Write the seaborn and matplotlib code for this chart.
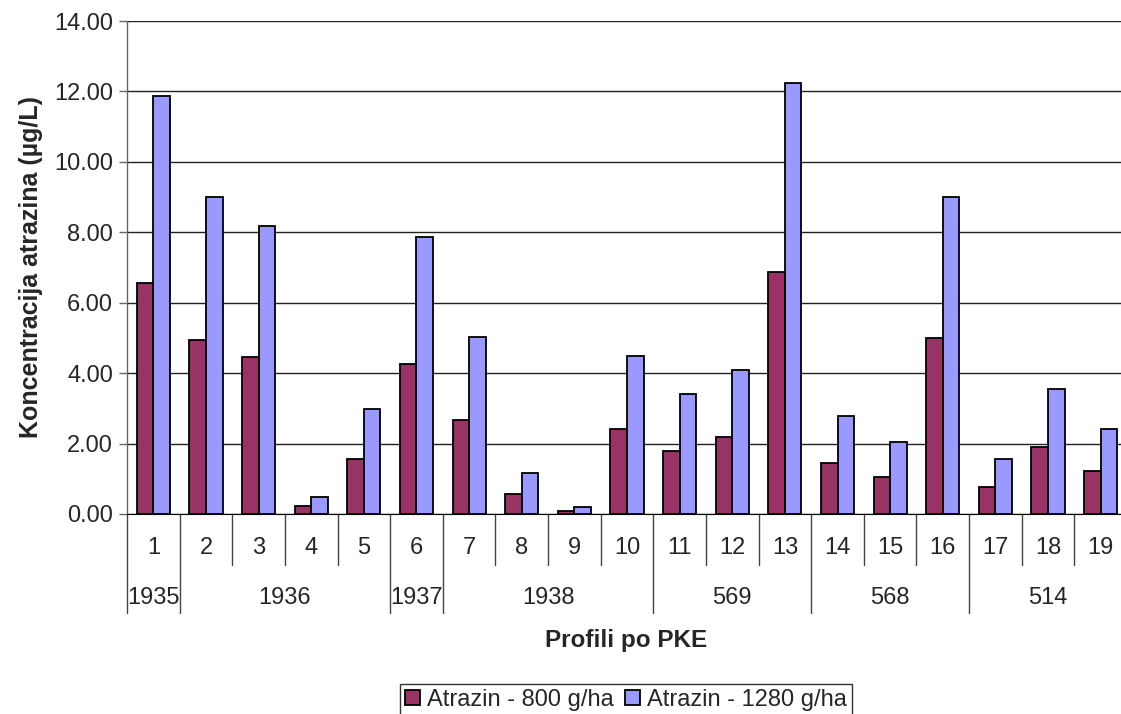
import numpy as np
import pandas as pd
import seaborn as sns
import matplotlib.pyplot as plt
from matplotlib.transforms import blended_transform_factory

# data
profili = [str(i) for i in range(1, 20)]
atrazin_800 = [6.55, 4.93, 4.45, 0.24, 1.56, 4.25, 2.68, 0.57, 0.08, 2.40,
               1.80, 2.19, 6.86, 1.45, 1.06, 4.99, 0.77, 1.90, 1.21]
atrazin_1280 = [11.86, 9.01, 8.18, 0.48, 2.97, 7.88, 5.04, 1.16, 0.19, 4.50,
                3.42, 4.10, 12.24, 2.78, 2.05, 9.01, 1.56, 3.56, 2.40]
grupe = ["1935", "1936", "1937", "1938", "569", "568", "514"]
grupe_velicina = [1, 4, 1, 4, 3, 3, 3]
serije = ["Atrazin - 800 g/ha", "Atrazin - 1280 g/ha"]
boje = ["#993366", "#9999FF"]

df = pd.DataFrame({
    "profil": profili * 2,
    "vrijednost": atrazin_800 + atrazin_1280,
    "serija": [serije[0]] * len(profili) + [serije[1]] * len(profili),
})

sns.set_style("white")
plt.rcParams['font.family'] = ['Liberation Sans', 'DejaVu Sans']

fig = plt.figure(figsize=(11.21, 7.14), dpi=100)
ax = fig.add_axes([127 / 1121, 1 - 514 / 714, 1000 / 1121, 493 / 714])

sns.barplot(data=df, x="profil", y="vrijednost", hue="serija", palette=boje,
            width=0.63, edgecolor="black", linewidth=1.3, saturation=1,
            ax=ax, legend=True)

ax.set_xlim(-0.5, len(profili) - 0.5)
ax.set_ylim(0, 14)
ax.set_yticks(np.arange(0, 14.01, 2))
ax.set_yticklabels([f"{v:.2f}" for v in np.arange(0, 14.01, 2)], fontsize=17)
ax.yaxis.grid(True, color="#222222", linewidth=1)
ax.set_axisbelow(True)
ax.tick_params(axis="y", left=True, length=6, width=1, color="#666666", pad=4)
ax.tick_params(axis="x", bottom=False, labelbottom=False)

for s in ["top", "right"]:
    ax.spines[s].set_visible(False)
ax.spines["left"].set_color("#666666")
ax.spines["bottom"].set_color("black")
ax.spines["left"].set_linewidth(1)

ax.set_xlabel("")
ax.set_ylabel("Koncentracija atrazina (µg/L)", fontsize=18, fontweight="bold", labelpad=8)

# category labels and separators under the axis
tr = blended_transform_factory(ax.transData, ax.transAxes)
px = 1 / 493
for i, p in enumerate(profili):
    ax.text(i, -34 * px, p, transform=tr, ha="center", va="center", fontsize=17)

granice = np.cumsum([0] + grupe_velicina)
for b in range(len(profili) + 1):
    kraj = -99 * px if b in granice else -51 * px
    ax.plot([b - 0.5, b - 0.5], [0, kraj], transform=tr, color="#444444",
            linewidth=1, clip_on=False)

for g, start, n in zip(grupe, granice[:-1], grupe_velicina):
    ax.text(start + (n - 1) / 2, -84 * px, g, transform=tr, ha="center",
            va="center", fontsize=17)

fig.text(626 / 1121, 1 - 640 / 714, "Profili po PKE", ha="center", va="center",
         fontsize=17.5, fontweight="bold")

handles, labels = ax.get_legend_handles_labels()
ax.legend_.remove()
leg = fig.legend(handles, labels, loc="lower center", ncol=2,
                 bbox_to_anchor=(626 / 1121, -0.002), fontsize=17,
                 frameon=True, fancybox=False, edgecolor="black",
                 handlelength=0.65, handleheight=0.65, handletextpad=0.3,
                 columnspacing=0.45, borderpad=0.2, borderaxespad=0)
leg.get_frame().set_linewidth(1)

fig.savefig("out.png", dpi=100)
